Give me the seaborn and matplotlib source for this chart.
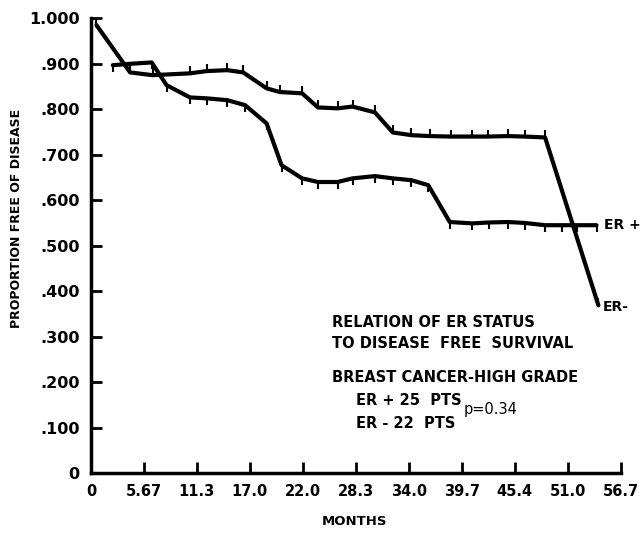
import pandas as pd
import matplotlib.pyplot as plt
import seaborn as sns

# --- dados (meses, proporção livre de doença) ---
er_neg_meses = [0.6, 4.2, 6.6, 10.6, 12.4, 14.6, 16.3, 18.8, 20.2, 22.6, 24.3, 26.4,
                28.0, 30.4, 32.3, 34.3, 36.3, 38.5, 40.8, 42.5, 44.6, 46.4, 48.6, 54.3]
er_neg_prop = [0.985, 0.881, 0.875, 0.879, 0.884, 0.886, 0.881, 0.846, 0.838, 0.835, 0.804, 0.802,
               0.806, 0.793, 0.749, 0.743, 0.741, 0.740, 0.740, 0.740, 0.741, 0.740, 0.738, 0.369]

er_pos_meses = [2.35, 4.2, 6.5, 8.1, 10.6, 12.4, 14.6, 16.5, 18.8, 20.4, 22.6, 24.3, 26.4,
                28.0, 30.4, 32.3, 34.3, 36.1, 38.4, 40.8, 42.6, 44.6, 46.4, 48.6, 50.4, 52.0, 54.1]
er_pos_prop = [0.897, 0.900, 0.903, 0.853, 0.826, 0.824, 0.820, 0.809, 0.769, 0.677, 0.648, 0.640, 0.640,
               0.648, 0.653, 0.648, 0.644, 0.633, 0.552, 0.549, 0.551, 0.552, 0.550, 0.545, 0.545, 0.545, 0.545]

x_ticks = [0, 5.67, 11.34, 17.01, 22.68, 28.35, 34.02, 39.69, 45.36, 51.03, 56.7]
x_labels = ['0', '5.67', '11.3', '17.0', '22.0', '28.3', '34.0', '39.7', '45.4', '51.0', '56.7']
y_ticks = [0, 0.1, 0.2, 0.3, 0.4, 0.5, 0.6, 0.7, 0.8, 0.9, 1.0]
y_labels = ['0', '.100', '.200', '.300', '.400', '.500', '.600', '.700', '.800', '.900', '1.000']

df_neg = pd.DataFrame({'meses': er_neg_meses, 'prop': er_neg_prop})
df_pos = pd.DataFrame({'meses': er_pos_meses, 'prop': er_pos_prop})

sns.set_style("ticks")
plt.rcParams['font.family'] = ['DejaVu Sans']
plt.rcParams['font.weight'] = 'bold'
plt.rcParams['text.color'] = 'black'
plt.rcParams['axes.labelcolor'] = 'black'
plt.rcParams['xtick.color'] = 'black'
plt.rcParams['ytick.color'] = 'black'
plt.rcParams['axes.edgecolor'] = 'black'

fig = plt.figure(figsize=(6.4, 5.33), dpi=100)
ax = fig.add_axes([0.142, 0.1126, 0.828, 0.853])

sns.lineplot(data=df_neg, x='meses', y='prop', sort=False, color='black', lw=3,
             marker=2, markersize=5, markeredgewidth=1.5, markeredgecolor='black', ax=ax)
sns.lineplot(data=df_pos, x='meses', y='prop', sort=False, color='black', lw=3,
             marker=3, markersize=5, markeredgewidth=1.5, markeredgecolor='black', ax=ax)

ax.set_xlim(0, 56.7)
ax.set_ylim(0, 1.0)
ax.set_xticks(x_ticks)
ax.set_xticklabels(x_labels, fontsize=10.5)
ax.set_yticks(y_ticks)
ax.set_yticklabels(y_labels, fontsize=11.5)
ax.tick_params(direction='in', length=8, width=2, pad=8)
for s in ['top', 'right']:
    ax.spines[s].set_visible(False)
for s in ['left', 'bottom']:
    ax.spines[s].set_linewidth(2.5)

ax.set_xlabel('MONTHS', fontsize=9.5, fontweight='bold')
ax.set_ylabel('PROPORTION FREE OF DISEASE', fontsize=9, fontweight='bold')
ax.xaxis.set_label_coords(0.498, -0.092)
ax.yaxis.set_label_coords(-0.128, 0.56)

ax.text(54.9, 0.545, 'ER +', fontsize=10, va='center', clip_on=False)
ax.text(54.8, 0.365, 'ER-', fontsize=10, va='center', clip_on=False)

ax.text(25.8, 0.32, 'RELATION OF ER STATUS', fontsize=10.5)
ax.text(25.8, 0.275, 'TO DISEASE  FREE  SURVIVAL', fontsize=10.5)
ax.text(25.8, 0.2, 'BREAST CANCER-HIGH GRADE', fontsize=10.5)
ax.text(28.4, 0.15, 'ER + 25  PTS', fontsize=10.5)
ax.text(28.4, 0.1, 'ER - 22  PTS', fontsize=10.5)
ax.text(39.9, 0.13, 'p=0.34', fontsize=10.5, fontweight='normal')

plt.savefig('out.png', dpi=100)
